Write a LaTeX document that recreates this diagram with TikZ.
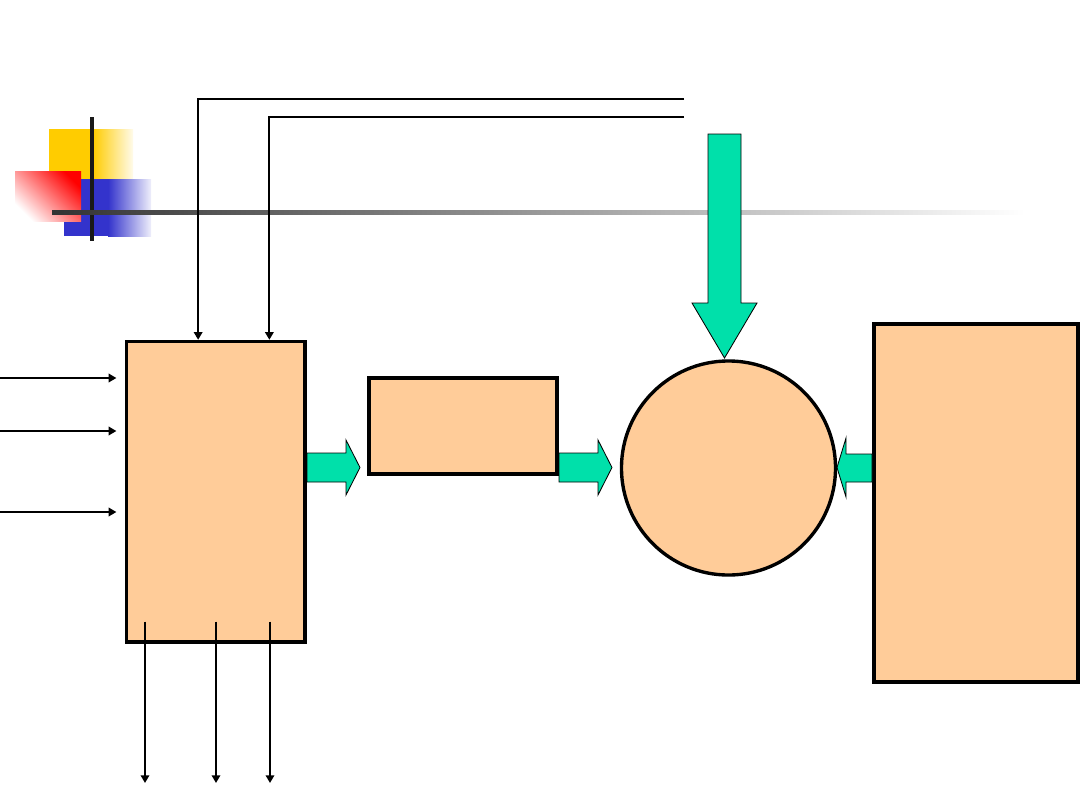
\documentclass[tikz,border=0pt]{standalone}
\usetikzlibrary{arrows.meta}
\definecolor{peach}{HTML}{FFCC99}
\definecolor{jade}{HTML}{00E0AA}
\definecolor{logoyellow}{HTML}{FFCC00}
\definecolor{logoblue}{HTML}{3333CC}
\begin{document}
\begin{tikzpicture}[x=0.025cm, y=-0.025cm,
  box/.style={draw, line width=2.4pt, fill=peach, inner sep=0pt},
  wire/.style={line width=1.4pt, -{Triangle[length=5.5pt,width=6pt]}},
  flow/.style={draw, line width=0.6pt, fill=jade, line join=miter}]
  \useasboundingbox (0,0) rectangle (1080,810);
  % logo
  \fill[logoyellow] (49,129) rectangle (93,179);
  \shade[left color=logoyellow, right color=logoyellow!8] (93,129) rectangle (133,179);
  \fill[logoblue] (64,179) rectangle (108,236);
  \shade[left color=logoblue, right color=logoblue!8] (108,179) rectangle (151,236);
  \shade[top color=red, bottom color=white, shading angle=-45] (15,171) rectangle (81,221);
  \fill[black!90] (90,117) rectangle (94,241);
  \shade[left color=black!80, middle color=black!50, right color=white] (52,210) rectangle (1025,214);
  % blocks
  \node[box, minimum width=4.46cm, minimum height=7.51cm] (unit) at (215.75,491.75) {};
  \node[box, minimum width=4.7cm, minimum height=2.4cm] (buffer) at (463,426) {};
  \node[box, circle, minimum size=5.35cm] (core) at (728.5,468) {};
  \node[box, minimum width=5.1cm, minimum height=8.95cm] (store) at (976,503) {};
  % signal lines
  \coordinate (t1) at (684,99);
  \coordinate (t2) at (684,117);
  \draw[wire] (t1) -| ([xshift=-0.44cm]unit.north);
  \draw[wire] (t2) -| ([xshift=1.34cm]unit.north);
  \foreach \y [count=\i] in {378,431,512} {
    \coordinate (in\i) at (0,\y);
    \draw[wire, shorten >=6pt] (in\i) -- (in\i -| unit.west);
  }
  \foreach \x [count=\i] in {145,216,270} {
    \coordinate (out\i) at (\x,783);
    \draw[wire] ([yshift=0.55cm]out\i |- unit.south) -- (out\i);
  }
  % wide arrows
  \draw[flow] (307,453) -- (346,453) -- (346,440) -- (360,467.5) -- (346,495) -- (346,482) -- (307,482) -- cycle;
  \draw[flow] (559,453) -- (598,453) -- (598,440) -- (612,467.5) -- (598,495) -- (598,482) -- (559,482) -- cycle;
  \draw[flow] (872,454) -- (846,454) -- (846,438) -- (837,467.5) -- (846,497) -- (846,482) -- (872,482) -- cycle;
  \draw[flow] (708,134) -- (741,134) -- (741,303) -- (757,303) -- (724.5,358) -- (692,303) -- (708,303) -- cycle;
\end{tikzpicture}
\end{document}
